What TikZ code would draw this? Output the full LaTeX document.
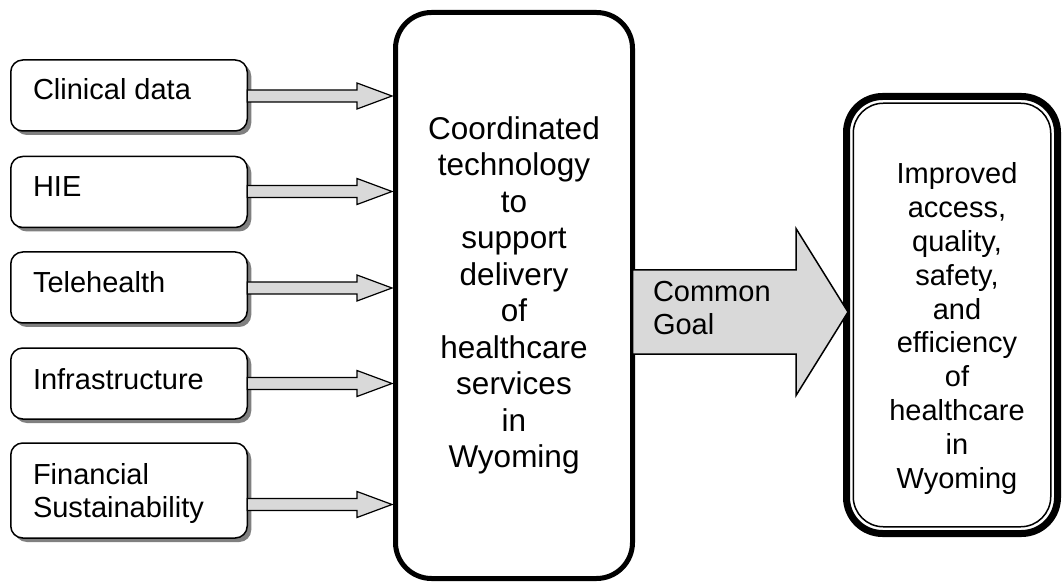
\documentclass[tikz,border=0pt]{standalone}
\usepackage{fontspec}
\setmainfont{Liberation Sans}
\usetikzlibrary{calc,shadows}
\definecolor{arrowgray}{RGB}{217,217,217}
\definecolor{shadowgray}{RGB}{128,128,128}
\tikzset{
  every node/.style={outer sep=0pt},
  srcbox/.style={draw, line width=1.5pt, rounded corners=12pt, fill=white,
    minimum width=236.5pt, minimum height=71pt, inner sep=0pt,
    drop shadow={shadow xshift=4pt, shadow yshift=-4pt, fill=shadowgray, opacity=1}},
  srctext/.style={font=\fontsize{29}{33}\selectfont, inner sep=0pt, align=left},
  mainbox/.style={draw, line width=5pt, rounded corners=36pt, fill=white,
    minimum width=237pt, minimum height=566pt, inner sep=0pt, align=center,
    font=\fontsize{31.5}{36.5}\selectfont},
  goalbox/.style={draw, line width=7pt, rounded corners=36pt, fill=white,
    minimum width=211pt, minimum height=437pt, inner sep=0pt},
  goaltext/.style={font=\fontsize{29}{33.8}\selectfont, inner sep=0pt, align=center},
  cgtext/.style={font=\fontsize{29}{33}\selectfont, inner sep=0pt, align=left},
  blockarrow/.style n args={4}{draw, fill=arrowgray, line width=#4, line join=miter,
    to path={let \p1=(\tikztostart), \p2=(\tikztotarget) in
      (\x1,\y1+#1pt) -- (\x2-#3pt,\y1+#1pt) -- (\x2-#3pt,\y1+#2pt) -- (\x2,\y1)
      -- (\x2-#3pt,\y1-#2pt) -- (\x2-#3pt,\y1-#1pt) -- (\x1,\y1-#1pt) -- cycle}},
}
\begin{document}
\begin{tikzpicture}[x=1pt,y=-1pt]
\useasboundingbox (0,0) rectangle (1063,585);

% source boxes
\node[srcbox] (b1) at (129,95.5) {};
\node[srcbox] (b2) at (129,192) {};
\node[srcbox] (b3) at (129,287.5) {};
\node[srcbox] (b4) at (129,383.5) {};
\node[srcbox, minimum height=95pt] (b5) at (129,490.5) {};

% central box
\node[mainbox] (mid) at (514,295.5)
  {Coordinated\\technology\\to\\support\\delivery\\of\\healthcare\\services\\in\\Wyoming};

% goal box
\node[goalbox] (goal) at (952,315) {};
\draw[line width=1.5pt, rounded corners=30pt]
  ($(goal.north west)+(6.75,6.75)$) rectangle ($(goal.south east)+(-6.75,-6.75)$);

% small arrows
\draw[blockarrow={6}{13}{35}{1.2pt}] ($(b1.east)+(0,0.5)$) to ($(mid.west)+(-3.5,0)$);
\draw[blockarrow={6}{13}{35}{1.2pt}] ($(b2.east)+(0,-0.5)$) to ($(mid.west)+(-3.5,0)$);
\draw[blockarrow={6}{13}{35}{1.2pt}] ($(b3.east)+(0,0.5)$) to ($(mid.west)+(-3.5,0)$);
\draw[blockarrow={6}{13}{35}{1.2pt}] ($(b4.east)+(0,0)$) to ($(mid.west)+(-3.5,0)$);
\draw[blockarrow={6}{13}{35}{1.2pt}] ($(b5.east)+(0,14)$) to ($(mid.west)+(-3.5,0)$);

% common goal arrow
\draw[blockarrow={42}{83.5}{52}{1.5pt}] ($(mid.east)+(0,16.5)$) to ($(goal.west)+(1.5,0)$);

% texts
\node[srctext, anchor=base west] (t1) at (33,100) {Clinical data};
\node[srctext, anchor=base west] (t2) at (33,197) {HIE};
\node[srctext, anchor=base west] (t3) at (33,293) {Telehealth};
\node[srctext, anchor=base west] (t4) at (33,389) {Infrastructure};
\node[srctext, anchor=west] (t5) at (33,494) {Financial\\Sustainability};
\node[cgtext, anchor=west] (cg) at (653,308) {Common\\Goal};
\node[goaltext] (goaltxt) at (957,328.5)
  {Improved\\access,\\quality,\\safety,\\and\\efficiency\\of\\healthcare\\in\\Wyoming};
\end{tikzpicture}
\end{document}
